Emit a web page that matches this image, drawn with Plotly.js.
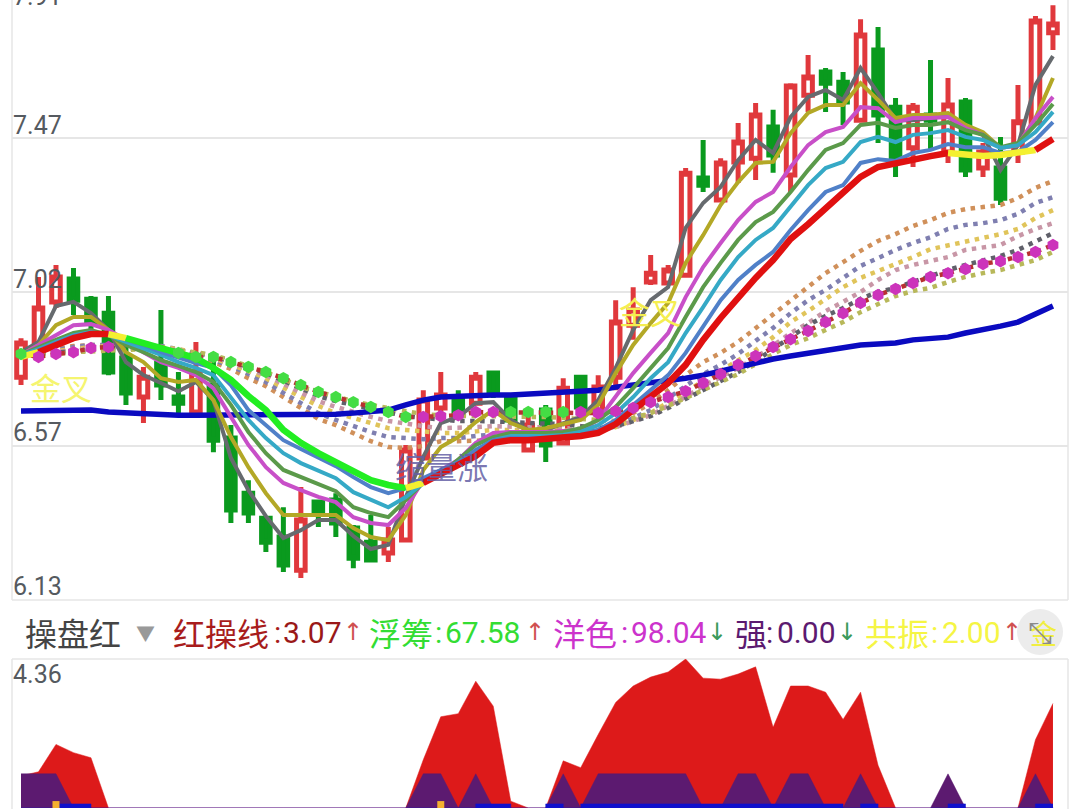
<!DOCTYPE html>
<html><head><meta charset="utf-8">
<script src="https://cdn.plot.ly/plotly-3.0.1.min.js"></script>
<style>html,body{margin:0;padding:0;background:#fff}#c{width:1080px;height:809px}</style>
</head><body><div id="c"></div>
<script>
const index=[...Array(60).keys()];
const high=[6.885,7.064,7.099,7.090,7.008,7.008,6.865,6.801,6.967,6.786,6.874,6.844,6.631,6.470,6.362,6.391,6.450,6.412,6.432,6.339,6.368,6.333,6.573,6.733,6.786,6.733,6.786,6.786,6.719,6.660,6.690,6.768,6.771,6.777,6.996,7.034,7.128,7.099,7.382,7.464,7.411,7.514,7.572,7.552,7.630,7.712,7.674,7.663,7.817,7.794,7.587,7.572,7.698,7.645,7.587,7.455,7.473,7.625,7.826,7.858];
const low=[6.748,6.844,6.973,6.953,6.894,6.777,6.690,6.637,6.704,6.666,6.669,6.552,6.345,6.345,6.260,6.202,6.184,6.333,6.304,6.213,6.231,6.231,6.295,6.535,6.646,6.646,6.690,6.710,6.631,6.558,6.523,6.573,6.660,6.646,6.733,6.880,7.040,7.040,7.069,7.312,7.286,7.338,7.347,7.368,7.312,7.546,7.546,7.508,7.522,7.455,7.356,7.385,7.435,7.397,7.356,7.356,7.274,7.397,7.514,7.727];
const open=[6.771,6.850,6.991,7.058,6.999,6.958,6.827,6.713,6.812,6.713,6.669,6.748,6.593,6.432,6.359,6.304,6.207,6.406,6.412,6.330,6.289,6.257,6.295,6.535,6.681,6.704,6.695,6.783,6.710,6.558,6.675,6.579,6.771,6.675,6.771,6.923,7.049,7.046,7.069,7.353,7.289,7.400,7.411,7.502,7.362,7.595,7.663,7.633,7.522,7.727,7.560,7.441,7.537,7.429,7.575,7.382,7.382,7.429,7.514,7.777];
const close=[6.871,6.973,7.064,6.996,6.929,6.786,6.725,6.771,6.748,6.695,6.783,6.587,6.383,6.374,6.289,6.222,6.354,6.377,6.345,6.242,6.237,6.295,6.558,6.704,6.719,6.660,6.771,6.725,6.646,6.631,6.573,6.739,6.684,6.742,6.932,6.967,7.075,7.084,7.367,7.332,7.397,7.458,7.537,7.420,7.622,7.648,7.630,7.575,7.771,7.537,7.411,7.560,7.522,7.566,7.376,7.429,7.294,7.517,7.812,7.803];

const grayLine=[6.844,6.874,6.979,6.991,6.958,6.909,6.815,6.777,6.754,6.730,6.757,6.704,6.535,6.441,6.365,6.301,6.324,6.354,6.354,6.307,6.269,6.281,6.421,6.538,6.637,6.655,6.695,6.698,6.646,6.617,6.617,6.637,6.655,6.704,6.798,6.909,6.996,7.034,7.207,7.280,7.327,7.405,7.464,7.426,7.531,7.590,7.610,7.581,7.674,7.601,7.522,7.522,7.528,7.537,7.502,7.479,7.376,7.449,7.625,7.709];
const oliveLine=[6.836,6.865,6.923,6.947,6.947,6.909,6.844,6.815,6.768,6.757,6.763,6.704,6.596,6.508,6.432,6.368,6.368,6.368,6.368,6.330,6.304,6.295,6.368,6.500,6.567,6.596,6.640,6.675,6.637,6.617,6.622,6.634,6.646,6.690,6.783,6.865,6.929,6.988,7.105,7.186,7.274,7.341,7.397,7.400,7.484,7.543,7.566,7.566,7.630,7.581,7.528,7.537,7.537,7.543,7.508,7.487,7.441,7.449,7.528,7.645];
const magentaLine=[6.836,6.865,6.894,6.923,6.926,6.909,6.880,6.844,6.815,6.798,6.777,6.739,6.655,6.573,6.508,6.462,6.441,6.421,6.406,6.362,6.345,6.339,6.389,6.470,6.500,6.529,6.579,6.608,6.611,6.611,6.611,6.614,6.617,6.646,6.713,6.783,6.842,6.900,7.005,7.093,7.163,7.230,7.283,7.312,7.385,7.449,7.487,7.502,7.560,7.557,7.516,7.528,7.528,7.531,7.499,7.479,7.441,7.449,7.528,7.590];
const greenLine=[6.836,6.859,6.880,6.900,6.909,6.894,6.865,6.844,6.821,6.804,6.786,6.757,6.690,6.611,6.549,6.500,6.479,6.456,6.438,6.391,6.374,6.362,6.412,6.462,6.488,6.529,6.573,6.596,6.608,6.608,6.608,6.611,6.622,6.646,6.684,6.739,6.798,6.856,6.947,7.034,7.105,7.172,7.224,7.254,7.312,7.376,7.435,7.455,7.508,7.514,7.499,7.508,7.508,7.516,7.493,7.479,7.443,7.455,7.508,7.569];
const cyanLine=[6.836,6.853,6.874,6.894,6.903,6.894,6.874,6.856,6.836,6.815,6.798,6.777,6.710,6.646,6.593,6.549,6.520,6.497,6.476,6.435,6.412,6.391,6.421,6.462,6.485,6.514,6.558,6.587,6.599,6.599,6.599,6.602,6.611,6.631,6.666,6.713,6.768,6.815,6.900,6.976,7.055,7.122,7.172,7.207,7.268,7.332,7.382,7.400,7.458,7.473,7.458,7.479,7.484,7.493,7.473,7.464,7.441,7.449,7.487,7.546];
const blueLine=[6.830,6.850,6.871,6.891,6.900,6.894,6.880,6.865,6.844,6.827,6.812,6.798,6.748,6.675,6.631,6.587,6.561,6.535,6.511,6.479,6.450,6.432,6.447,6.476,6.500,6.523,6.558,6.587,6.593,6.593,6.593,6.596,6.602,6.617,6.646,6.690,6.733,6.777,6.842,6.917,6.996,7.055,7.099,7.137,7.201,7.259,7.312,7.332,7.397,7.408,7.403,7.426,7.435,7.452,7.443,7.443,7.426,7.429,7.464,7.516];
const mainLine=[6.830,6.844,6.865,6.885,6.897,6.897,6.885,6.871,6.856,6.844,6.827,6.798,6.763,6.716,6.675,6.617,6.579,6.549,6.523,6.494,6.470,6.456,6.447,6.462,6.488,6.514,6.541,6.579,6.587,6.587,6.590,6.593,6.599,6.608,6.634,6.675,6.713,6.754,6.807,6.880,6.944,7.005,7.061,7.113,7.175,7.218,7.265,7.312,7.356,7.385,7.397,7.408,7.417,7.426,7.420,7.417,7.420,7.426,7.435,7.467];
const longLine=[6.672,6.672,6.672,6.672,6.675,6.669,6.666,6.663,6.660,6.660,6.660,6.660,6.660,6.660,6.660,6.660,6.660,6.663,6.663,6.666,6.669,6.675,6.690,6.704,6.713,6.716,6.719,6.719,6.719,6.722,6.722,6.725,6.728,6.733,6.742,6.748,6.754,6.760,6.768,6.777,6.789,6.801,6.815,6.824,6.833,6.842,6.850,6.856,6.865,6.868,6.871,6.880,6.882,6.888,6.900,6.909,6.920,6.932,6.955,6.979];

const dotOrange=[6.836,6.844,6.853,6.862,6.865,6.865,6.865,6.862,6.859,6.850,6.836,6.815,6.795,6.768,6.745,6.713,6.681,6.649,6.631,6.608,6.584,6.567,6.564,6.570,6.584,6.584,6.584,6.587,6.590,6.593,6.593,6.593,6.599,6.617,6.637,6.666,6.695,6.733,6.777,6.815,6.842,6.874,6.915,6.953,6.993,7.034,7.075,7.107,7.140,7.169,7.189,7.213,7.230,7.251,7.262,7.268,7.274,7.294,7.324,7.344];
const dotSlate=[6.836,6.842,6.850,6.859,6.865,6.865,6.865,6.865,6.862,6.853,6.838,6.821,6.804,6.780,6.757,6.725,6.695,6.666,6.646,6.628,6.611,6.596,6.593,6.590,6.593,6.593,6.599,6.605,6.608,6.608,6.605,6.605,6.605,6.611,6.628,6.652,6.675,6.710,6.745,6.780,6.807,6.839,6.877,6.915,6.958,6.996,7.026,7.061,7.096,7.119,7.143,7.163,7.180,7.204,7.216,7.221,7.230,7.248,7.280,7.297];
const dotYellow=[6.836,6.842,6.847,6.853,6.859,6.862,6.862,6.862,6.859,6.853,6.842,6.827,6.809,6.789,6.768,6.739,6.713,6.687,6.666,6.652,6.637,6.622,6.617,6.611,6.608,6.608,6.614,6.617,6.617,6.617,6.617,6.614,6.614,6.614,6.625,6.646,6.666,6.698,6.727,6.760,6.789,6.818,6.850,6.888,6.932,6.964,6.999,7.034,7.061,7.081,7.102,7.122,7.145,7.157,7.169,7.178,7.189,7.204,7.236,7.259];
const dotMauve=[6.836,6.839,6.844,6.850,6.853,6.859,6.859,6.859,6.856,6.850,6.842,6.830,6.815,6.795,6.777,6.751,6.725,6.701,6.684,6.669,6.655,6.643,6.634,6.628,6.622,6.622,6.625,6.628,6.625,6.625,6.625,6.622,6.619,6.617,6.625,6.643,6.660,6.687,6.713,6.745,6.771,6.798,6.827,6.862,6.900,6.929,6.964,6.991,7.020,7.055,7.084,7.099,7.110,7.122,7.143,7.151,7.157,7.183,7.204,7.221];
const dotDark=[6.836,6.839,6.842,6.847,6.850,6.856,6.856,6.856,6.853,6.847,6.842,6.833,6.818,6.801,6.783,6.760,6.736,6.716,6.701,6.690,6.678,6.666,6.657,6.652,6.646,6.643,6.643,6.643,6.640,6.637,6.637,6.634,6.628,6.622,6.628,6.643,6.657,6.681,6.707,6.736,6.760,6.786,6.818,6.853,6.891,6.923,6.950,6.973,7.000,7.020,7.032,7.049,7.069,7.084,7.099,7.113,7.125,7.143,7.169,7.192];
const dotOlive=[6.836,6.836,6.839,6.844,6.847,6.850,6.853,6.853,6.850,6.847,6.844,6.836,6.821,6.804,6.786,6.766,6.742,6.728,6.713,6.701,6.690,6.681,6.669,6.663,6.660,6.657,6.657,6.657,6.655,6.655,6.655,6.652,6.646,6.643,6.643,6.652,6.666,6.687,6.710,6.733,6.757,6.780,6.809,6.839,6.865,6.885,6.909,6.932,6.961,6.985,7.008,7.023,7.032,7.049,7.064,7.075,7.084,7.099,7.113,7.137];
const signalLine=[6.839,6.830,6.839,6.844,6.856,6.859,6.862,6.865,6.859,6.842,6.830,6.830,6.815,6.801,6.786,6.768,6.748,6.728,6.713,6.698,6.684,6.669,6.655,6.655,6.657,6.660,6.669,6.669,6.669,6.669,6.669,6.669,6.669,6.666,6.672,6.681,6.698,6.713,6.730,6.754,6.780,6.807,6.833,6.859,6.882,6.906,6.932,6.958,6.988,7.011,7.029,7.046,7.064,7.075,7.087,7.102,7.110,7.122,7.137,7.157];
const signalState='gmmmmmnnnggggggggggggggmmmmmggggmmmmmmmmmmmmmmmmmmmmmmmmmmmm';

const redArea=[0.94,1.06,1.86,1.62,1.47,0,0,0,0,0,0,0,0,0,0,0,0,0,0,0,0,0,0,1.41,2.67,2.76,3.71,2.98,0.2,0,0,1.38,1.18,2.15,3.09,3.57,3.83,3.98,4.36,3.80,3.77,3.92,4.13,2.36,3.57,3.57,3.39,2.59,3.39,1.25,0,0,0,0,0,0,0,0,2.0,3.06];
const purpleArea=[1,1,1,0,0,0,0,0,0,0,0,0,0,0,0,0,0,0,0,0,0,0,0,1,1,0,1,0,0,0,0,1,0,1,1,1,1,1,1,0,0,1,1,0,1,1,0,0,1,0,0,0,0,1,0,0,0,0,1,0];
const blueArea=[0,0,0.12,0.12,0,0,0,0,0,0,0,0,0,0,0,0,0,0,0,0,0,0,0,0,0,0,0.12,0.12,0,0,0.12,0,0.12,0.12,0.12,0.12,0.12,0.12,0.12,0.12,0.12,0.12,0.12,0.12,0.12,0.12,0.12,0,0.12,0,0,0,0,0.12,0,0,0,0,0.12,0.12];
const flagIndex=[2,24];
const flagValue=[0.1,0.1];

const priceTicks=[6.12,6.57,7.02,7.47];
const priceLabels=['6.13','6.57','7.02','7.47','7.91'];

function pick(a,list){return list.map(i=>a[i]);}
const ups=index.filter(i=>close[i]>=open[i]);
const downs=index.filter(i=>close[i]<open[i]);
function candles(list,color,fill,w,lw){return {type:'candlestick',x:list,open:pick(open,list),high:pick(high,list),low:pick(low,list),close:pick(close,list),
  width:w,whiskerwidth:0,hoverinfo:'skip',showlegend:false,xaxis:'x',yaxis:'y',
  increasing:{line:{color,width:lw},fillcolor:fill},decreasing:{line:{color,width:lw},fillcolor:fill}};}
function line(y,color,width,dash){return {type:'scatter',mode:'lines',x:index,y,xaxis:'x',yaxis:'y',hoverinfo:'skip',showlegend:false,line:{color,width,dash:dash||'solid'}};}
const dotted='4.5px,5.5px';
const traces=[
  candles(ups,'#e0383c','#ffffff',0.6,5),
  candles(downs,'#0a9a1e','#0a9a1e',0.46,5),
  line(dotOrange,'#d0905a',4.5,dotted),line(dotSlate,'#7f7fb0',4.5,dotted),line(dotYellow,'#e0c45a',4.5,dotted),
  line(dotMauve,'#c896a6',4.5,dotted),line(dotDark,'#60606a',4.5,dotted),line(dotOlive,'#b8b85a',4.5,dotted),
  line(signalLine,'#b83030',4.5,dotted),
  line(longLine,'#0a0ac0',5.5),
  line(grayLine,'#666a6e',4),line(oliveLine,'#b3a826',4),line(magentaLine,'#c84fc8',4),
  line(greenLine,'#5b9a4a',4),line(cyanLine,'#35a9c6',4),line(blueLine,'#5080c8',4)
];
const segments=[[0,1,'#f4f030'],[1,5,'#e01010'],[5,6,'#f4f030'],[6,22,'#22ee22'],[22,23,'#f4f030'],[23,53,'#e01010'],[53,58,'#f4f030'],[58,59,'#e01010']];
segments.forEach(([a,b,c])=>{const t=line(mainLine.slice(a,b+1),c,6.5);t.x=index.slice(a,b+1);traces.push(t);});
traces.push({type:'scatter',mode:'markers',x:index,y:signalLine,xaxis:'x',yaxis:'y',hoverinfo:'skip',showlegend:false,
  marker:{symbol:'hexagon',size:12.5,line:{width:0},color:index.map(i=>({g:'#44dd44',m:'#cc33bb',n:'rgba(0,0,0,0)'})[signalState[i]])}});
function area(y,color,shape){return {type:'scatter',mode:'lines',x:index,y,xaxis:'x2',yaxis:'y2',fill:'tozeroy',fillcolor:color,hoverinfo:'skip',showlegend:false,line:{color,width:0.5,shape:shape||'linear'}};}
traces.push(area(redArea,'#dd1a1a'),area(purpleArea,'#5c1a70'),area(blueArea,'#1010cc','hv'));
traces.push({type:'scatter',mode:'markers',x:flagIndex,y:flagValue,xaxis:'x2',yaxis:'y2',hoverinfo:'skip',showlegend:false,marker:{symbol:'square',size:7,color:'#f5b030'}});

const W=1080,H=809;
function txt(text,px,py,size,color,family,anchor,extra){return Object.assign({text,x:px/W,y:1-py/H,xref:'paper',yref:'paper',xanchor:anchor||'left',yanchor:'middle',showarrow:false,borderpad:0,
  font:{size,color,family:family||'Noto Sans CJK SC'}},extra||{});}
const NUM='Roboto';
const ARW='DejaVu Sans';
const ann=[
  txt(priceLabels[4],12,-4,25,'#555a60',NUM),txt(priceLabels[3],12,125,25,'#555a60',NUM),txt(priceLabels[2],12,279,25,'#555a60',NUM),
  txt(priceLabels[1],12,432,25,'#555a60',NUM),txt(priceLabels[0],12,586,25,'#555a60',NUM),txt('4.36',12,674,25,'#555a60',NUM),
  txt('金叉',29,386,31,'#f5f570'),txt('金叉',618,310,31,'#f5ee50'),txt('缩量涨',394,465,31,'rgba(100,95,165,0.85)'),
  txt('操盘红',24,632,32,'#444444'),txt('▼',135,632,19,'#999999'),
  txt('红操线',172,632,32,'#a81c1c'),txt(':',273,632,30,'#a81c1c',NUM),txt('3.07',282,632,30,'#9a1818',NUM),txt('↑',353,632,24,'#d05050',ARW,'center'),
  txt('浮筹',368,632,32,'#33dd33'),txt(':',434,632,30,'#33dd33',NUM),txt('67.58',444,632,30,'#33dd33',NUM),txt('↑',535,632,24,'#d05050',ARW,'center'),
  txt('洋色',552,632,32,'#cc33cc'),txt(':',620,632,30,'#cc33cc',NUM),txt('98.04',630,632,30,'#cc33cc',NUM),txt('↓',717,632,24,'#3a9a5a',ARW,'center'),
  txt('强',734,632,32,'#5c1a70'),txt(':',765,632,30,'#5c1a70',NUM),txt('0.00',776,632,30,'#5c1a70',NUM),txt('↓',847,632,24,'#3a9a5a',ARW,'center'),
  txt('共振',864,632,32,'#f5f544'),txt(':',930,632,30,'#f5f544',NUM),txt('2.00',941,632,30,'#f5f544',NUM),txt('↑',1012,632,24,'#d05050',ARW,'center'),
  txt('金',1029,632,27,'#f0ee40'),txt('⤡',1040,632,30,'#8a8a8a','DejaVu Sans','center')
];
const edge='#e6e6e6';
function rule(x0,y0,x1,y1){return {type:'line',xref:'paper',yref:'paper',x0:x0/W,x1:x1/W,y0:1-y0/H,y1:1-y1/H,line:{color:edge,width:1.5},layer:'below'};}
const shapes=[rule(12,0,12,600),rule(1068,0,1068,600),rule(12,600,1068,600),rule(12,659,1068,659),rule(12,659,12,809),rule(1068,659,1068,809),
  {type:'circle',xref:'paper',yref:'paper',x0:1017/W,x1:1063/W,y0:1-655/H,y1:1-609/H,fillcolor:'#ececec',line:{width:0},layer:'below'}];
const layout={width:W,height:H,margin:{l:0,r:0,t:0,b:0},paper_bgcolor:'#fff',plot_bgcolor:'rgba(0,0,0,0)',showlegend:false,boxmode:'overlay',
  xaxis:{domain:[12/W,1068/W],range:[-0.515,59.86],visible:false,rangeslider:{visible:false},fixedrange:true,anchor:'y'},
  xaxis2:{domain:[12/W,1068/W],range:[-0.515,59.86],visible:false,fixedrange:true,anchor:'y2'},
  yaxis:{domain:[209/H,1],range:[6.12,7.873],tickvals:priceTicks,showticklabels:false,ticks:'',showgrid:true,gridcolor:edge,gridwidth:1.5,zeroline:false,showline:false,fixedrange:true,anchor:'x'},
  yaxis2:{domain:[1/H,150/H],range:[0,4.36],showticklabels:false,ticks:'',showgrid:false,zeroline:false,showline:false,fixedrange:true,anchor:'x2'},
  annotations:ann,shapes};
Plotly.newPlot('c',traces,layout,{staticPlot:true,displayModeBar:false});
</script></body></html>
